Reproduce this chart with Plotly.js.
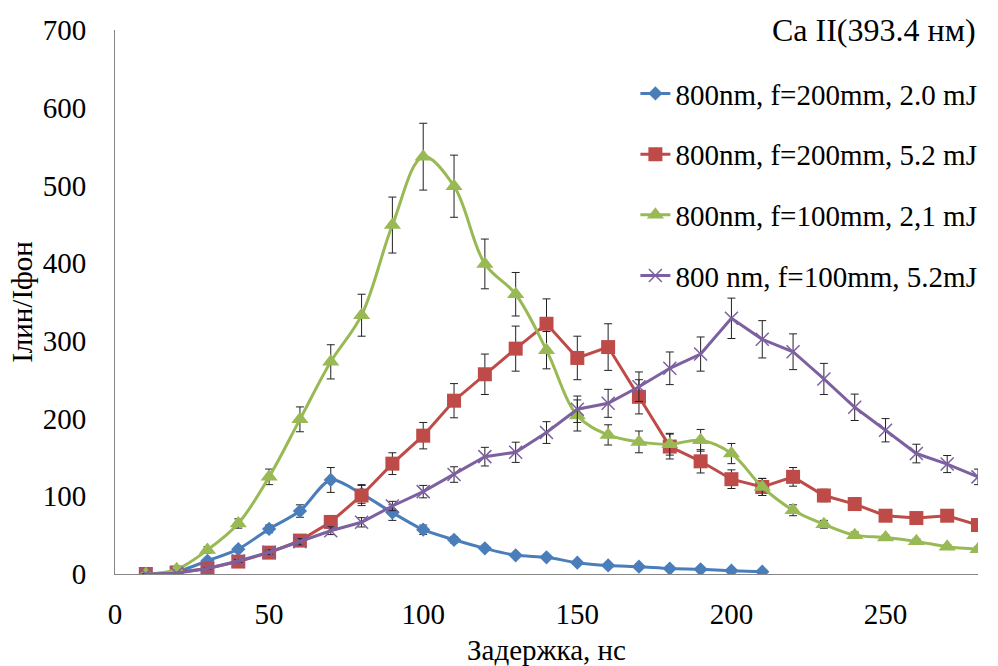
<!DOCTYPE html>
<html>
<head>
<meta charset="utf-8">
<script src="https://cdn.plot.ly/plotly-3.0.1.min.js"></script>
<style>html,body{margin:0;padding:0;background:#fff;}#chart{width:998px;height:666px;}</style>
</head>
<body>
<div id="chart"></div>
<script>
// Delay, ns
const delays = [10,20,30,40,50,60,70,80,90,100,110,120,130,140,150,160,170,180,190,200,210,220,230,240,250,260,270,280];
const delaysBlue = [10,20,30,40,50,60,70,80,90,100,110,120,130,140,150,160,170,180,190,200,210];

const seriesNames = [
  "800nm, f=200mm, 2.0 mJ",
  "800nm, f=200mm, 5.2 mJ",
  "800nm, f=100mm, 2,1 mJ",
  "800 nm, f=100mm, 5.2mJ"
];

const blue = [0, 3, 17, 32, 58, 81, 121, 103, 79, 57, 44, 33, 24, 21.5, 14.6, 11, 9.4, 7, 6, 4.3, 3];
const blueErr = [0, 1, 2, 3, 5, 8, 16, 12, 10, 6, 4, 3, 2, 2, 1.5, 1, 1, 1, 1, 1, 1];

const red = [0, 2, 7, 16, 27.5, 43, 67, 101, 142, 178, 223, 257, 290, 322, 278, 292, 228, 164, 145, 122, 112, 125, 101, 90, 75, 72, 75, 63];
const redErr = [0, 1, 2, 3, 4, 5, 8, 13, 14, 17, 22, 26, 29, 32, 28, 30, 22, 16, 15, 12, 11, 12, 8, 8, 6, 5, 5, 5];

const green = [0, 6, 31, 65, 125, 199, 273, 333, 449, 537, 499, 399, 360, 288, 204, 179, 170, 167, 172, 155, 112, 82, 64, 50, 47, 42, 35, 32];
const greenErr = [0, 2, 4, 6, 10, 16, 22, 27, 36, 43, 40, 32, 28, 24, 20, 13, 14, 14, 14, 13, 11, 7, 5, 4, 3, 3, 3, 3];

const purple = [0, 1, 7, 16.7, 28, 41.6, 55.7, 66.5, 87.5, 106, 128, 151, 156.6, 182, 212, 219.6, 241, 264.7, 283, 329, 302, 286, 251, 214.5, 185, 155, 141.5, 125];
const purpleErr = [0, 1, 1, 2, 3, 4, 5, 6, 6, 8, 10, 12, 13, 14, 17, 18, 19, 21, 22, 26, 24, 23, 20, 17, 15, 12, 11, 10];

const xTicks = [0, 50, 100, 150, 200, 250];
const yTicks = [0, 100, 200, 300, 400, 500, 600, 700];

const FONT = "Liberation Serif";

function errBar(arr) {
  return {type: 'data', array: arr, visible: true, color: '#222', thickness: 1, width: 4};
}

const traces = [
  {x: delaysBlue, y: blue, name: seriesNames[0], legendgroup: 'a', type: 'scatter', mode: 'lines+markers',
   line: {color: '#4A7EBB', width: 3, shape: 'spline', smoothing: 0.8},
   marker: {symbol: 'diamond', size: 11, color: '#4A7EBB'}, error_y: errBar(blueErr)},
  {x: delays, y: red, name: seriesNames[1], legendgroup: 'b', type: 'scatter', mode: 'lines+markers',
   line: {color: '#BE4B48', width: 3},
   marker: {symbol: 'square', size: 14, color: '#BE4B48'}, error_y: errBar(redErr)},
  {x: delays, y: green, name: seriesNames[2], legendgroup: 'c', type: 'scatter', mode: 'lines+markers',
   line: {color: '#98B954', width: 3, shape: 'spline', smoothing: 1},
   marker: {symbol: 'triangle-up', size: 15, color: '#98B954'}, error_y: errBar(greenErr)},
  {x: delays, y: purple, name: seriesNames[3], legendgroup: 'd', type: 'scatter', mode: 'lines+markers',
   line: {color: '#7D60A0', width: 3},
   marker: {symbol: 'x-thin', size: 13, color: '#7D60A0', line: {color: '#7D60A0', width: 1.5}}, error_y: errBar(purpleErr)}
];

const layout = {
  width: 998, height: 666,
  margin: {l: 115, r: 20, t: 30, b: 92},
  paper_bgcolor: '#fff', plot_bgcolor: '#fff',
  font: {family: FONT, color: '#000', size: 29},
  showlegend: true,
  legend: {
    x: 0.603, xanchor: 'left', y: 0.93, yanchor: 'top',
    font: {family: FONT, size: 29, color: '#000'},
    tracegroupgap: 20, bgcolor: 'rgba(0,0,0,0)', itemwidth: 30
  },
  xaxis: {
    range: [0, 280], tickvals: xTicks, ticktext: xTicks.map(String),
    showgrid: false, zeroline: false, showline: true, linecolor: '#868686', linewidth: 1,
    ticks: '', ticklabelstandoff: 14,
    tickfont: {family: FONT, size: 29, color: '#000'},
    title: {text: 'Задержка, нс', font: {family: FONT, size: 29, color: '#000'}, standoff: 11}
  },
  yaxis: {
    range: [0, 700], tickvals: yTicks, ticktext: yTicks.map(String),
    showgrid: false, zeroline: false, showline: true, linecolor: '#868686', linewidth: 1,
    ticks: '', ticklabelstandoff: 22,
    tickfont: {family: FONT, size: 29, color: '#000'},
    title: {text: 'Iлин/Iфон', font: {family: FONT, size: 29, color: '#000'}, standoff: 1}
  },
  annotations: [{
    text: 'Ca II(393.4 нм)', xref: 'paper', yref: 'paper',
    x: 1.0, xanchor: 'right', y: 1.0, yanchor: 'middle',
    showarrow: false, font: {family: FONT, size: 32, color: '#000'}
  }]
};

Plotly.newPlot('chart', traces, layout, {displayModeBar: false, staticPlot: true});
</script>
</body>
</html>
